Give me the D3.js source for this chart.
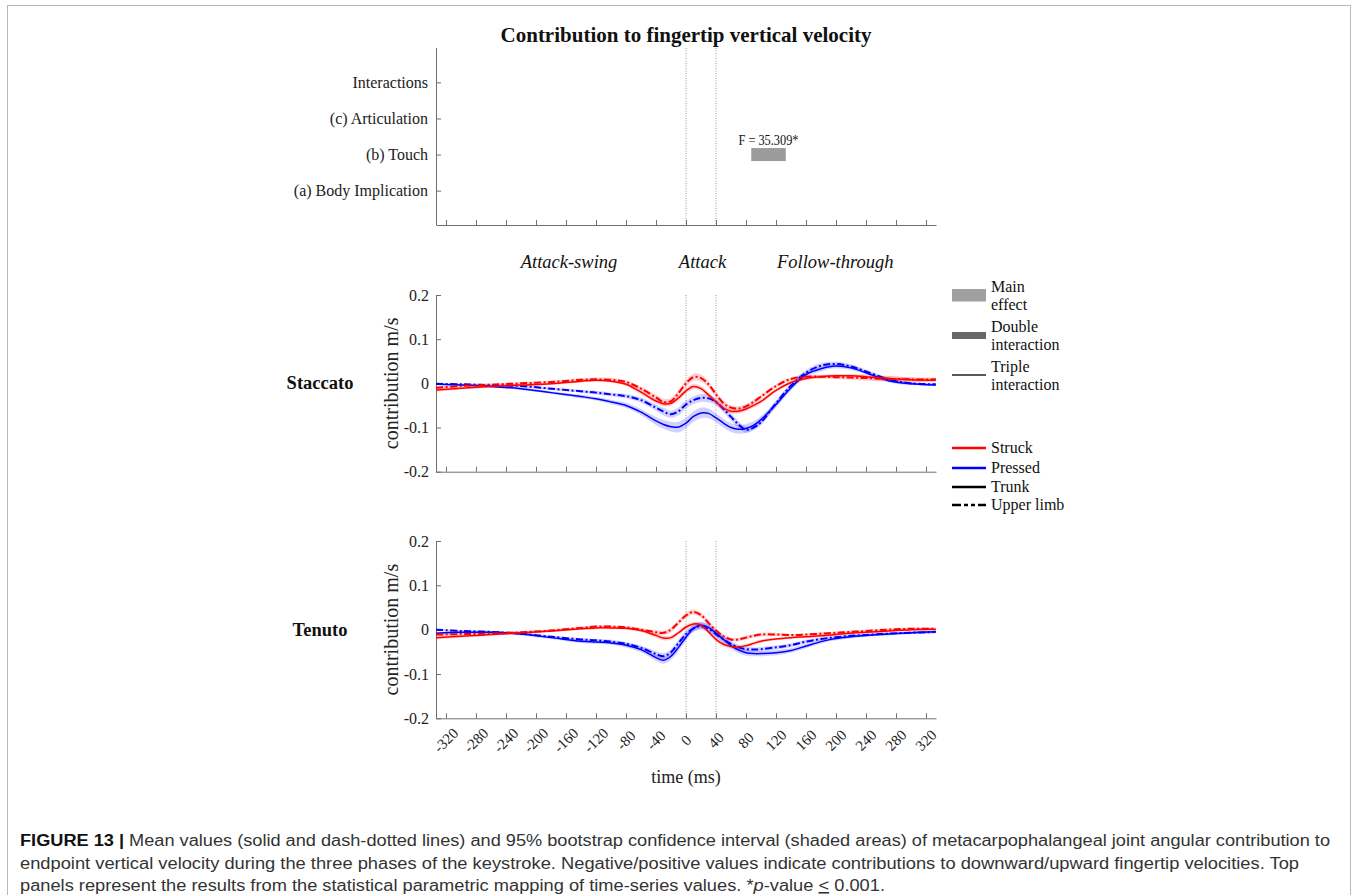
<!DOCTYPE html>
<html><head><meta charset="utf-8">
<script src="https://cdn.jsdelivr.net/npm/d3@7"></script>
<style>
body{margin:0;background:#fff;}
svg{display:block;}
</style></head><body>
<svg id="fig" width="1358" height="895"></svg>
<script>
// ---- data ----------------------------------------------------------------
// time samples (ms) relative to key attack
const times = [-333,-300,-260,-220,-180,-140,-120,-100,-80,-60,-40,-30,-20,-10,0,10,20,30,40,50,60,70,80,90,100,120,140,160,180,200,220,240,270,300,333];

// SPM effects (top panel)
const effectRows = ["(a) Body Implication","(b) Touch","(c) Articulation","Interactions"];
const effectRow = "(b) Touch";
const effectStart = 87;
const effectEnd = 133;
const effectLabel = "F = 35.309*";

// Staccato means (m/s)
const stacStruckTrunk = [-0.015,-0.011,-0.007,-0.004,-0.001,0.005,0.007,0.005,-0.002,-0.02,-0.04,-0.046,-0.045,-0.033,-0.017,-0.007,-0.012,-0.026,-0.042,-0.056,-0.063,-0.063,-0.058,-0.05,-0.041,-0.016,0.002,0.011,0.015,0.017,0.017,0.015,0.011,0.008,0.007];
const stacStruckLimb  = [-0.01,-0.006,-0.003,0.0,0.003,0.008,0.009,0.008,0.003,-0.012,-0.032,-0.042,-0.04,-0.022,0.0,0.014,0.012,-0.002,-0.025,-0.045,-0.055,-0.057,-0.052,-0.042,-0.03,-0.006,0.01,0.015,0.015,0.014,0.013,0.012,0.01,0.009,0.009];
const stacPressedTrunk = [-0.002,-0.004,-0.007,-0.012,-0.021,-0.03,-0.035,-0.042,-0.05,-0.065,-0.085,-0.093,-0.098,-0.099,-0.09,-0.075,-0.067,-0.068,-0.078,-0.09,-0.1,-0.104,-0.102,-0.095,-0.082,-0.048,-0.01,0.02,0.033,0.039,0.035,0.024,0.006,-0.001,-0.004];
const stacPressedLimb  = [-0.001,-0.002,-0.004,-0.006,-0.012,-0.018,-0.021,-0.025,-0.029,-0.038,-0.055,-0.064,-0.07,-0.063,-0.048,-0.038,-0.033,-0.034,-0.042,-0.058,-0.076,-0.093,-0.105,-0.1,-0.088,-0.045,-0.005,0.024,0.04,0.044,0.038,0.027,0.009,0.0,-0.002];
// Staccato 95% CI half-widths
const stacStruckTrunkCI = [0.004,0.003,0.003,0.003,0.003,0.003,0.003,0.003,0.004,0.005,0.005,0.006,0.006,0.006,0.006,0.006,0.006,0.006,0.006,0.006,0.005,0.005,0.005,0.005,0.005,0.004,0.004,0.004,0.004,0.004,0.004,0.005,0.006,0.005,0.004];
const stacStruckLimbCI  = [0.003,0.003,0.003,0.003,0.003,0.004,0.004,0.004,0.004,0.005,0.006,0.007,0.007,0.007,0.008,0.008,0.008,0.007,0.007,0.006,0.006,0.006,0.005,0.005,0.005,0.004,0.004,0.004,0.004,0.004,0.005,0.006,0.006,0.005,0.004];
const stacPressedTrunkCI = [0.002,0.002,0.003,0.003,0.003,0.004,0.004,0.005,0.006,0.007,0.009,0.01,0.011,0.012,0.012,0.012,0.012,0.011,0.01,0.01,0.01,0.01,0.01,0.009,0.008,0.007,0.006,0.006,0.006,0.005,0.005,0.004,0.004,0.003,0.003];
const stacPressedLimbCI  = [0.002,0.002,0.002,0.003,0.003,0.003,0.004,0.004,0.005,0.006,0.007,0.008,0.008,0.009,0.009,0.009,0.009,0.009,0.008,0.008,0.008,0.008,0.007,0.007,0.007,0.006,0.006,0.006,0.006,0.005,0.005,0.004,0.004,0.003,0.003];

// Tenuto means (m/s)
const tenStruckTrunk = [-0.018,-0.015,-0.011,-0.007,-0.003,0.002,0.004,0.004,0.003,-0.002,-0.013,-0.019,-0.018,-0.007,0.006,0.013,0.01,-0.005,-0.022,-0.033,-0.038,-0.039,-0.036,-0.031,-0.026,-0.021,-0.018,-0.016,-0.014,-0.011,-0.008,-0.006,-0.003,0.0,0.001];
const tenStruckLimb  = [-0.011,-0.01,-0.009,-0.006,-0.002,0.004,0.007,0.007,0.005,0.0,-0.006,-0.007,0.0,0.016,0.032,0.04,0.033,0.015,-0.002,-0.015,-0.022,-0.022,-0.018,-0.014,-0.011,-0.011,-0.012,-0.011,-0.009,-0.007,-0.005,-0.003,0.0,0.002,0.002];
const tenPressedTrunk = [-0.008,-0.006,-0.006,-0.01,-0.018,-0.026,-0.028,-0.03,-0.035,-0.045,-0.063,-0.069,-0.06,-0.04,-0.017,0.003,0.01,0.005,-0.008,-0.022,-0.036,-0.046,-0.052,-0.054,-0.054,-0.052,-0.047,-0.037,-0.027,-0.02,-0.016,-0.013,-0.01,-0.007,-0.005];
const tenPressedLimb  = [0.0,-0.003,-0.005,-0.009,-0.016,-0.022,-0.024,-0.027,-0.032,-0.041,-0.055,-0.06,-0.051,-0.03,-0.01,0.003,0.008,0.002,-0.01,-0.022,-0.032,-0.04,-0.044,-0.045,-0.044,-0.04,-0.035,-0.027,-0.021,-0.017,-0.014,-0.012,-0.009,-0.007,-0.005];
// Tenuto 95% CI half-widths
const tenStruckTrunkCI = [0.004,0.003,0.003,0.003,0.003,0.003,0.003,0.003,0.003,0.004,0.005,0.005,0.005,0.005,0.005,0.005,0.005,0.005,0.005,0.005,0.004,0.004,0.004,0.004,0.004,0.003,0.003,0.003,0.003,0.003,0.003,0.003,0.003,0.003,0.003];
const tenStruckLimbCI  = [0.003,0.003,0.003,0.003,0.003,0.003,0.003,0.003,0.003,0.004,0.005,0.005,0.006,0.006,0.006,0.006,0.006,0.006,0.005,0.005,0.004,0.004,0.004,0.004,0.004,0.004,0.003,0.003,0.003,0.003,0.003,0.003,0.003,0.003,0.003];
const tenPressedTrunkCI = [0.003,0.003,0.003,0.003,0.003,0.004,0.004,0.004,0.005,0.006,0.007,0.008,0.008,0.008,0.008,0.008,0.008,0.008,0.008,0.008,0.007,0.007,0.007,0.006,0.006,0.006,0.005,0.005,0.004,0.004,0.004,0.003,0.003,0.003,0.003];
const tenPressedLimbCI  = [0.002,0.002,0.002,0.003,0.003,0.003,0.003,0.004,0.004,0.005,0.006,0.007,0.007,0.007,0.008,0.008,0.008,0.008,0.007,0.007,0.006,0.006,0.006,0.005,0.005,0.005,0.004,0.004,0.004,0.003,0.003,0.003,0.003,0.003,0.003];

const xTicks = [-320,-280,-240,-200,-160,-120,-80,-40,0,40,80,120,160,200,240,280,320];
const yTicks = [-0.2,-0.1,0,0.1,0.2];
const phaseMarks = [0, 40];
const phases = [["Attack-swing", -156], ["Attack", 22], ["Follow-through", 199]];

const captionLines = [
  ["FIGURE 13 | ", "Mean values (solid and dash-dotted lines) and 95% bootstrap confidence interval (shaded areas) of metacarpophalangeal joint angular contribution to"],
  ["", "endpoint vertical velocity during the three phases of the keystroke. Negative/positive values indicate contributions to downward/upward fingertip velocities. Top"],
  ["", "panels represent the results from the statistical parametric mapping of time-series values. *"]
];

// ---- drawing -------------------------------------------------------------
const svg = d3.select("#fig");
const SERIF = "'Liberation Serif','Times New Roman',serif";
const SANS = "'Liberation Sans Narrow','Liberation Sans',Arial,sans-serif";
const AXIS = "#6f6f6f";
const RED = "#ff0000", BLUE = "#0000ff";
const DASHDOT = "7,2.5,2,2.5";

// outer frame
svg.append("rect").attr("x", 7.5).attr("y", 5.5).attr("width", 1343).attr("height", 900)
  .attr("fill", "none").attr("stroke", "#b8b8b8").attr("stroke-width", 1);

const x = d3.scaleLinear().domain([-333.3, 333.3]).range([436, 936]);

function styleAxis(g) {
  g.select(".domain").attr("stroke", AXIS).attr("stroke-width", 1);
  g.selectAll(".tick line").attr("stroke", AXIS);
  g.selectAll(".tick text").attr("fill", "#222").attr("font-family", SERIF);
}

function phaseLines(y0, y1) {
  svg.append("g").selectAll("line").data(phaseMarks).join("line")
    .attr("x1", d => x(d)).attr("x2", d => x(d))
    .attr("y1", y0).attr("y2", y1)
    .attr("stroke", "#9a9a9a").attr("stroke-width", 1).attr("stroke-dasharray", "1,1.5");
}

// title
svg.append("text").attr("x", 686).attr("y", 42).attr("text-anchor", "middle")
  .attr("font-family", SERIF).attr("font-weight", "bold").attr("font-size", 21)
  .attr("fill", "#111").text("Contribution to fingertip vertical velocity");

// ---- top panel: SPM results
const yTop = d3.scalePoint().domain(effectRows).range([225, 48]).padding(0.95);
phaseLines(48, 225);
const gTopY = svg.append("g").attr("transform", "translate(436,0)")
  .call(d3.axisLeft(yTop).tickSizeInner(-5).tickSizeOuter(0).tickPadding(8));
styleAxis(gTopY);
gTopY.select(".domain").attr("d", "M0.5,225V48");
gTopY.selectAll(".tick text").attr("font-size", 16);
const gTopX = svg.append("g").attr("transform", "translate(0,225)")
  .call(d3.axisBottom(x).tickValues(xTicks).tickSizeInner(-5).tickSizeOuter(0).tickFormat(""));
styleAxis(gTopX);

svg.append("rect")
  .attr("x", x(effectStart)).attr("width", x(effectEnd) - x(effectStart))
  .attr("y", yTop(effectRow) - 6.5).attr("height", 13)
  .attr("fill", "#9b9b9b");
svg.append("text").attr("x", (x(effectStart) + x(effectEnd)) / 2).attr("y", yTop(effectRow) - 10)
  .attr("text-anchor", "middle").attr("font-family", SERIF).attr("font-size", 14.5)
  .attr("textLength", 60).attr("lengthAdjust", "spacingAndGlyphs")
  .attr("fill", "#111").text(effectLabel);

// phase labels
svg.append("g").selectAll("text").data(phases).join("text")
  .attr("x", d => x(d[1])).attr("y", 268).attr("text-anchor", "middle")
  .attr("font-family", SERIF).attr("font-style", "italic").attr("font-size", 18.5)
  .attr("fill", "#111").text(d => d[0]);

// ---- time-series panels
function panel(name, top, bottom, series, showLabels) {
  const y = d3.scaleLinear().domain([-0.2, 0.2]).range([bottom, top]);
  phaseLines(top, bottom);

  const gy = svg.append("g").attr("transform", "translate(436,0)")
    .call(d3.axisLeft(y).tickValues(yTicks).tickSizeInner(-5).tickSizeOuter(0).tickPadding(7)
      .tickFormat(d => String(+d.toFixed(1))));
  styleAxis(gy);
  gy.selectAll(".tick text").attr("font-size", 16);

  const gx = svg.append("g").attr("transform", `translate(0,${bottom})`)
    .call(d3.axisBottom(x).tickValues(xTicks).tickSizeInner(-5).tickSizeOuter(0).tickFormat(""));
  styleAxis(gx);
  if (showLabels) {
    svg.append("g").selectAll("text").data(xTicks).join("text")
      .attr("transform", d => `translate(${x(d)},${bottom + 22}) rotate(-45)`)
      .attr("text-anchor", "middle").attr("dominant-baseline", "central")
      .attr("font-family", SERIF).attr("font-size", 15).attr("fill", "#222")
      .text(d => String(d));
  }

  // axis title
  svg.append("text")
    .attr("transform", `translate(398,${(top + bottom) / 2}) rotate(-90)`)
    .attr("text-anchor", "middle").attr("font-family", SERIF).attr("font-size", 20)
    .attr("fill", "#222").text("contribution m/s");
  svg.append("text").attr("x", 320).attr("y", y(0) + 6).attr("text-anchor", "middle")
    .attr("font-family", SERIF).attr("font-weight", "bold").attr("font-size", 18.5)
    .attr("fill", "#111").text(name);

  const pts = (m, c) => times.map((t, i) => ({ t, m: m[i], c: c[i] }));
  const band = d3.area().x(d => x(d.t)).y0(d => y(d.m - d.c)).y1(d => y(d.m + d.c))
    .curve(d3.curveCatmullRom.alpha(0.5));
  const line = d3.line().x(d => x(d.t)).y(d => y(d.m)).curve(d3.curveCatmullRom.alpha(0.5));

  const g = svg.append("g");
  series.forEach(s => {
    g.append("path").attr("d", band(pts(s.m, s.c)))
      .attr("fill", s.color).attr("fill-opacity", 0.18);
  });
  series.forEach(s => {
    g.append("path").attr("d", line(pts(s.m, s.c)))
      .attr("fill", "none").attr("stroke", s.color)
      .attr("stroke-width", s.dash ? 2 : 1.5)
      .attr("stroke-dasharray", s.dash ? DASHDOT : null);
  });
}

panel("Staccato", 295, 471.7, [
  { m: stacPressedTrunk, c: stacPressedTrunkCI, color: BLUE, dash: false },
  { m: stacPressedLimb, c: stacPressedLimbCI, color: BLUE, dash: true },
  { m: stacStruckTrunk, c: stacStruckTrunkCI, color: RED, dash: false },
  { m: stacStruckLimb, c: stacStruckLimbCI, color: RED, dash: true }
], false);

panel("Tenuto", 541, 718.3, [
  { m: tenPressedTrunk, c: tenPressedTrunkCI, color: BLUE, dash: false },
  { m: tenPressedLimb, c: tenPressedLimbCI, color: BLUE, dash: true },
  { m: tenStruckTrunk, c: tenStruckTrunkCI, color: RED, dash: false },
  { m: tenStruckLimb, c: tenStruckLimbCI, color: RED, dash: true }
], true);

svg.append("text").attr("x", 686).attr("y", 783).attr("text-anchor", "middle")
  .attr("font-family", SERIF).attr("font-size", 18).attr("fill", "#222").text("time (ms)");

// ---- legend
const legX = 952, legW = 34, legTX = 991;
const lg = svg.append("g").attr("font-family", SERIF).attr("font-size", 16).attr("fill", "#111");
lg.append("rect").attr("x", legX).attr("y", 289).attr("width", legW).attr("height", 12.5).attr("fill", "#a0a0a0");
lg.append("rect").attr("x", legX).attr("y", 332).attr("width", legW).attr("height", 7).attr("fill", "#686868");
lg.append("line").attr("x1", legX).attr("x2", legX + legW).attr("y1", 375).attr("y2", 375)
  .attr("stroke", "#222").attr("stroke-width", 1.5);
[["Main", 292], ["effect", 310], ["Double", 332], ["interaction", 350], ["Triple", 372], ["interaction", 390]]
  .forEach(([t, yy]) => lg.append("text").attr("x", legTX).attr("y", yy).text(t));

const styleLegend = [["Struck", RED, null, 448], ["Pressed", BLUE, null, 468], ["Trunk", "#000", null, 487], ["Upper limb", "#000", "9,3,4,3,4,3", 505]];
styleLegend.forEach(([t, c, dash, yy]) => {
  lg.append("line").attr("x1", legX).attr("x2", legX + legW).attr("y1", yy).attr("y2", yy)
    .attr("stroke", c).attr("stroke-width", 2.5).attr("stroke-dasharray", dash);
  lg.append("text").attr("x", legTX).attr("y", yy + 5).text(t);
});

// ---- caption
const cap = svg.append("g").attr("font-family", SANS).attr("font-size", 16).attr("fill", "#333");
const capLens = [1310, 1279, 865];
captionLines.forEach((ln, i) => {
  const t = cap.append("text").attr("x", 20).attr("y", 846 + i * 22.5);
  if (capLens[i]) t.attr("textLength", capLens[i]).attr("lengthAdjust", "spacingAndGlyphs");
  if (ln[0]) t.append("tspan").attr("font-weight", "bold").attr("fill", "#111").text(ln[0]);
  t.append("tspan").text(ln[1]);
  if (i === 2) {
    t.append("tspan").attr("font-style", "italic").text("p");
    t.append("tspan").text("-value ");
    t.append("tspan").attr("text-decoration", "underline").text("<");
    t.append("tspan").text(" 0.001.");
  }
});
</script>
</body></html>
